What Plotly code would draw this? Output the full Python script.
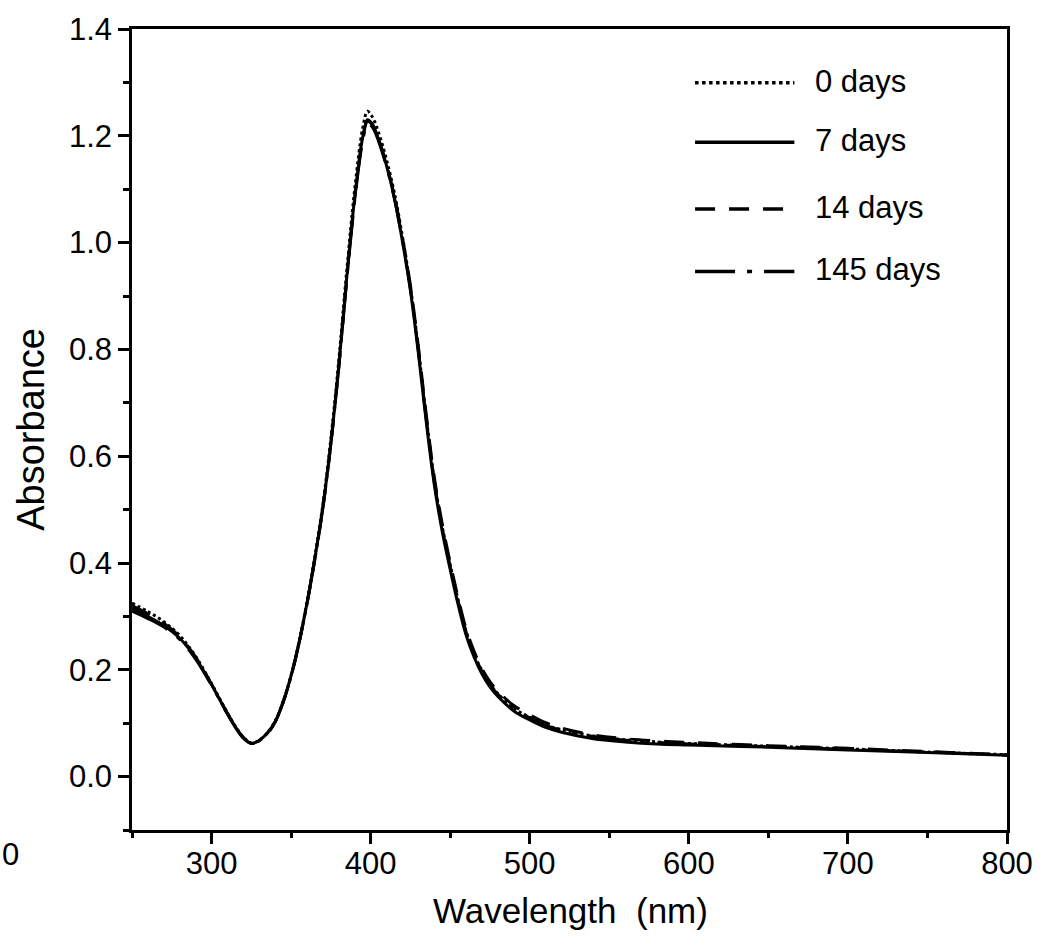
import plotly.graph_objects as go

# ---- data ----
wavelength = [250, 260, 270, 280, 290, 300, 310, 315, 320, 325, 330, 335, 340, 345, 350,
              355, 360, 365, 370, 375, 380, 385, 390, 395, 398, 400, 402, 405, 410, 415,
              420, 425, 430, 435, 440, 445, 450, 455, 460, 465, 470, 475, 480, 490, 500,
              510, 520, 540, 560, 580, 600, 650, 700, 750, 800]

days0 = [0.325, 0.309, 0.290, 0.264, 0.225, 0.174, 0.119, 0.094, 0.074, 0.063, 0.068, 0.082,
         0.104, 0.141, 0.190, 0.252, 0.327, 0.413, 0.510, 0.632, 0.780, 0.948, 1.100, 1.214,
         1.246, 1.240, 1.230, 1.206, 1.155, 1.092, 1.011, 0.918, 0.801, 0.672, 0.555, 0.468,
         0.396, 0.330, 0.272, 0.230, 0.198, 0.174, 0.155, 0.128, 0.111, 0.097, 0.088, 0.076,
         0.069, 0.065, 0.062, 0.057, 0.052, 0.046, 0.041]

days7 = [0.315, 0.300, 0.283, 0.259, 0.222, 0.172, 0.118, 0.093, 0.073, 0.062, 0.068, 0.081,
         0.103, 0.140, 0.189, 0.251, 0.325, 0.410, 0.505, 0.625, 0.770, 0.935, 1.085, 1.197,
         1.230, 1.226, 1.217, 1.193, 1.144, 1.082, 1.002, 0.910, 0.793, 0.663, 0.547, 0.459,
         0.388, 0.322, 0.265, 0.224, 0.192, 0.168, 0.150, 0.123, 0.106, 0.092, 0.083, 0.071,
         0.065, 0.061, 0.059, 0.055, 0.050, 0.045, 0.040]

days14 = [0.320, 0.305, 0.287, 0.262, 0.224, 0.173, 0.118, 0.093, 0.073, 0.062, 0.068, 0.081,
          0.103, 0.139, 0.188, 0.250, 0.323, 0.408, 0.503, 0.623, 0.768, 0.933, 1.082, 1.194,
          1.227, 1.224, 1.216, 1.194, 1.146, 1.086, 1.009, 0.920, 0.805, 0.677, 0.561, 0.473,
          0.401, 0.335, 0.277, 0.235, 0.202, 0.178, 0.160, 0.133, 0.116, 0.101, 0.091, 0.078,
          0.071, 0.067, 0.064, 0.058, 0.053, 0.047, 0.041]

days145 = [0.310, 0.296, 0.280, 0.257, 0.220, 0.171, 0.117, 0.092, 0.072, 0.061, 0.067, 0.080,
           0.102, 0.139, 0.188, 0.250, 0.324, 0.409, 0.504, 0.623, 0.767, 0.930, 1.079, 1.190,
           1.223, 1.220, 1.212, 1.190, 1.142, 1.082, 1.004, 0.914, 0.798, 0.669, 0.553, 0.466,
           0.394, 0.328, 0.271, 0.229, 0.197, 0.172, 0.154, 0.127, 0.110, 0.096, 0.087, 0.075,
           0.068, 0.064, 0.061, 0.056, 0.051, 0.046, 0.040]

series_names = ["0 days", "7 days", "14 days", "145 days"]
series_values = [days0, days7, days14, days145]
series_dash = ["dot", "solid", "20px,14px", "40px,12px,5px,12px"]

x_ticks = [300, 400, 500, 600, 700, 800]
y_ticks = [0.0, 0.2, 0.4, 0.6, 0.8, 1.0, 1.2, 1.4]

FONT = "Arial, Liberation Sans, sans-serif"

fig = go.Figure()
# draw in an order so the solid line sits on top
order = [0, 2, 3, 1]
for i in order:
    fig.add_trace(go.Scatter(
        x=wavelength, y=series_values[i], mode="lines", name=series_names[i],
        line=dict(color="black", width=3, dash=series_dash[i], shape="spline", smoothing=1.0),
        showlegend=False,
    ))

# manual legend (sample lines + labels), matching the reference look
leg_y = [0.933, 0.8586, 0.7754, 0.6973]
for i, name in enumerate(series_names):
    fig.add_shape(type="line", xref="paper", yref="paper",
                  x0=0.6435, x1=0.757, y0=leg_y[i], y1=leg_y[i],
                  line=dict(color="black", width=3.5, dash=series_dash[i]))
    fig.add_annotation(xref="paper", yref="paper", x=0.778, y=leg_y[i] + 0.002,
                       text=name, showarrow=False, xanchor="left", yanchor="middle",
                       font=dict(family=FONT, size=31, color="black"))

# axis titles
fig.add_annotation(xref="paper", yref="paper", x=-0.1162, y=0.5, text="Absorbance",
                   textangle=-90, showarrow=False, xanchor="center", yanchor="middle",
                   font=dict(family=FONT, size=38, color="black"))
fig.add_annotation(xref="paper", yref="paper", x=0.5008, y=-0.1005,
                   text="Wavelength\u00a0\u00a0(nm)", showarrow=False,
                   xanchor="center", yanchor="middle",
                   font=dict(family=FONT, size=35, color="black"))
# clipped tick label fragment at far left of the reference
fig.add_annotation(xref="paper", yref="paper", x=-0.127, y=-0.03, text="0",
                   showarrow=False, xanchor="right", yanchor="middle",
                   font=dict(family=FONT, size=31, color="black"))

axis_common = dict(
    showgrid=False, zeroline=False, showline=True, linecolor="black", linewidth=2.5,
    mirror=True, ticks="outside", tickcolor="black", tickwidth=2.5,
    tickfont=dict(family=FONT, size=31, color="black"),
)

fig.update_xaxes(range=[250, 800], tickvals=x_ticks, ticklen=11, ticklabelstandoff=-7,
                 minor=dict(dtick=50, tick0=250, ticks="outside", ticklen=5,
                            tickwidth=2.5, tickcolor="black"),
                 **axis_common)
fig.update_yaxes(range=[-0.1, 1.4], tickvals=y_ticks, tickformat=".1f", ticklen=11,
                 minor=dict(dtick=0.1, tick0=0, ticks="outside", ticklen=6,
                            tickwidth=2.5, tickcolor="black"),
                 **axis_common)

fig.update_layout(
    width=1045, height=936, autosize=False,
    margin=dict(l=132, r=35, t=24, b=106, pad=0),
    plot_bgcolor="white", paper_bgcolor="white",
    showlegend=False,
)

fig.write_html("out.html")
